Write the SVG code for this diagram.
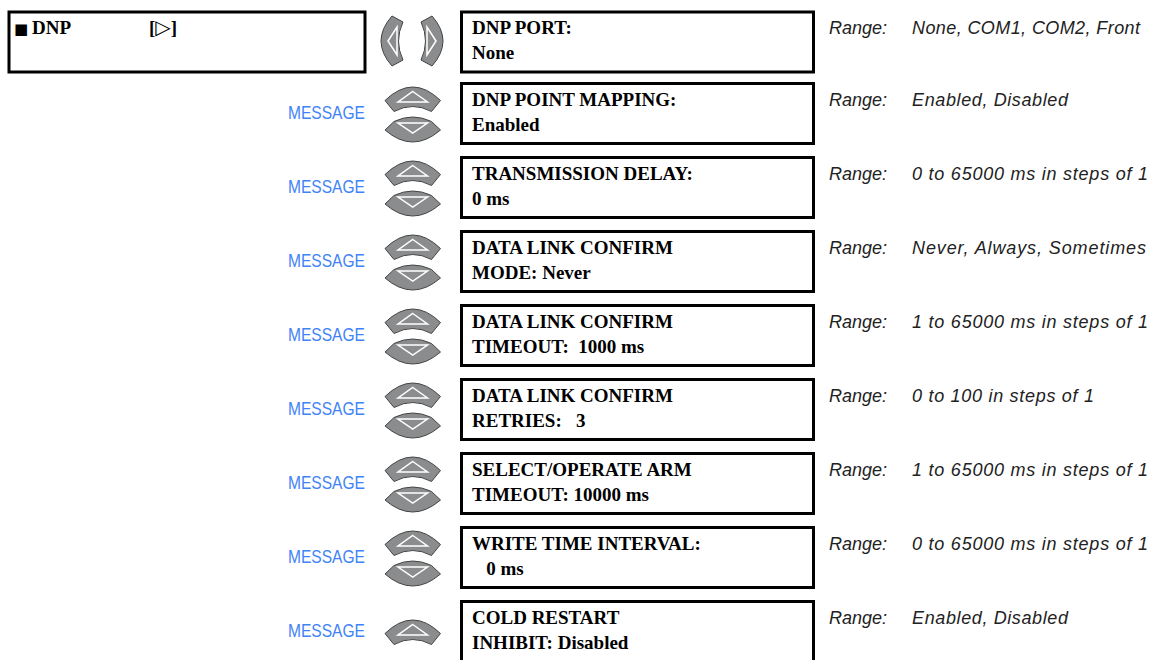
<svg xmlns="http://www.w3.org/2000/svg" xmlns:xlink="http://www.w3.org/1999/xlink" width="1158" height="660" viewBox="0 0 1158 660">
<style>
.box{fill:#fff;stroke:#000;stroke-width:3}
.t{font-family:"Liberation Serif","DejaVu Serif",serif;font-weight:bold;font-size:19px;fill:#000;white-space:pre}
.msg{font-family:"Liberation Sans",Arial,sans-serif;font-size:17.5px;fill:#3f83f8}
.rl{font-family:"Liberation Sans",Arial,sans-serif;font-style:italic;font-size:18px;fill:#222}
.key{fill:#8a8c8e;stroke:#444;stroke-width:1}
.tri{fill:none;stroke:#fff;stroke-width:1.5;stroke-linejoin:miter}
</style>
<defs>
<g id="up">
<path class="key" d="M0,18.5 Q27.75,-8.5 55.5,18.5 L46.5,29.5 Q27.75,19.5 9,29.5 Z"/>
<path class="tri" d="M27.75,9.5 L42.5,20 L13,20 Z"/>
</g>
<g id="down">
<path class="key" d="M9,39.5 Q27.75,30.5 46.5,39.5 L55.5,48 Q27.75,72 0,48 Z"/>
<path class="tri" d="M13,41 L42.5,41 L27.75,51 Z"/>
</g>
</defs>

<g id="menu-dnp">
<rect class="box" x="9" y="12" width="356" height="60"/>
<text class="t" y="34"><tspan x="14" font-family="DejaVu Sans,sans-serif" font-size="15">■</tspan><tspan x="32">DNP</tspan><tspan x="149">[</tspan><tspan font-family="DejaVu Sans,sans-serif" font-weight="normal" font-size="20">▷</tspan><tspan>]</tspan></text>
</g>

<g id="nav-keys">
<g id="key-left">
<path class="key" d="M392,16 Q370,41 392,66 L403,60 Q394,41 403,22 Z"/>
<path class="tri" d="M388,41 L397,27 L397,55 Z"/>
</g>
<g id="key-right">
<path class="key" d="M432,16 Q454,41 432,66 L421,60 Q430,41 421,22 Z"/>
<path class="tri" d="M436,41 L427,27 L427,55 Z"/>
</g>
<use xlink:href="#up" href="#up" x="385" y="82"/><use xlink:href="#down" href="#down" x="385" y="82"/>
<use xlink:href="#up" href="#up" x="385" y="156"/><use xlink:href="#down" href="#down" x="385" y="156"/>
<use xlink:href="#up" href="#up" x="385" y="230"/><use xlink:href="#down" href="#down" x="385" y="230"/>
<use xlink:href="#up" href="#up" x="385" y="304"/><use xlink:href="#down" href="#down" x="385" y="304"/>
<use xlink:href="#up" href="#up" x="385" y="378"/><use xlink:href="#down" href="#down" x="385" y="378"/>
<use xlink:href="#up" href="#up" x="385" y="452"/><use xlink:href="#down" href="#down" x="385" y="452"/>
<use xlink:href="#up" href="#up" x="385" y="526"/><use xlink:href="#down" href="#down" x="385" y="526"/>
<use xlink:href="#up" href="#up" x="385" y="615"/>
</g>

<g id="message-labels">
<text class="msg" x="288" y="119" textLength="77" lengthAdjust="spacingAndGlyphs">MESSAGE</text>
<text class="msg" x="288" y="193" textLength="77" lengthAdjust="spacingAndGlyphs">MESSAGE</text>
<text class="msg" x="288" y="267" textLength="77" lengthAdjust="spacingAndGlyphs">MESSAGE</text>
<text class="msg" x="288" y="341" textLength="77" lengthAdjust="spacingAndGlyphs">MESSAGE</text>
<text class="msg" x="288" y="415" textLength="77" lengthAdjust="spacingAndGlyphs">MESSAGE</text>
<text class="msg" x="288" y="489" textLength="77" lengthAdjust="spacingAndGlyphs">MESSAGE</text>
<text class="msg" x="288" y="563" textLength="77" lengthAdjust="spacingAndGlyphs">MESSAGE</text>
<text class="msg" x="288" y="637" textLength="77" lengthAdjust="spacingAndGlyphs">MESSAGE</text>
</g>

<g id="s1">
<rect class="box" x="461.5" y="12" width="352" height="60"/>
<text class="t" x="472" y="34">DNP PORT:</text>
<text class="t" x="472" y="59">None</text>
<text class="rl" x="829" y="34">Range:</text>
<text class="rl" x="912" y="34" textLength="228">None, COM1, COM2, Front</text>
</g>
<g id="s2">
<rect class="box" x="461.5" y="83.5" width="352" height="60"/>
<text class="t" x="472" y="106">DNP POINT MAPPING:</text>
<text class="t" x="472" y="131">Enabled</text>
<text class="rl" x="829" y="106">Range:</text>
<text class="rl" x="912" y="106" textLength="156">Enabled, Disabled</text>
</g>
<g id="s3">
<rect class="box" x="461.5" y="157.5" width="352" height="60"/>
<text class="t" x="472" y="180">TRANSMISSION DELAY:</text>
<text class="t" x="472" y="205">0 ms</text>
<text class="rl" x="829" y="180">Range:</text>
<text class="rl" x="912" y="180" textLength="236">0 to 65000 ms in steps of 1</text>
</g>
<g id="s4">
<rect class="box" x="461.5" y="231.5" width="352" height="60"/>
<text class="t" x="472" y="254">DATA LINK CONFIRM</text>
<text class="t" x="472" y="279">MODE: Never</text>
<text class="rl" x="829" y="254">Range:</text>
<text class="rl" x="912" y="254" textLength="234">Never, Always, Sometimes</text>
</g>
<g id="s5">
<rect class="box" x="461.5" y="305.5" width="352" height="60"/>
<text class="t" x="472" y="328">DATA LINK CONFIRM</text>
<text class="t" x="472" y="353">TIMEOUT:  1000 ms</text>
<text class="rl" x="829" y="328">Range:</text>
<text class="rl" x="912" y="328" textLength="236">1 to 65000 ms in steps of 1</text>
</g>
<g id="s6">
<rect class="box" x="461.5" y="379.5" width="352" height="60"/>
<text class="t" x="472" y="402">DATA LINK CONFIRM</text>
<text class="t" x="472" y="427">RETRIES:   3</text>
<text class="rl" x="829" y="402">Range:</text>
<text class="rl" x="912" y="402" textLength="182">0 to 100 in steps of 1</text>
</g>
<g id="s7">
<rect class="box" x="461.5" y="453.5" width="352" height="60"/>
<text class="t" x="472" y="476">SELECT/OPERATE ARM</text>
<text class="t" x="472" y="501">TIMEOUT: 10000 ms</text>
<text class="rl" x="829" y="476">Range:</text>
<text class="rl" x="912" y="476" textLength="236">1 to 65000 ms in steps of 1</text>
</g>
<g id="s8">
<rect class="box" x="461.5" y="527.5" width="352" height="60"/>
<text class="t" x="472" y="550">WRITE TIME INTERVAL:</text>
<text class="t" x="472" y="575">   0 ms</text>
<text class="rl" x="829" y="550">Range:</text>
<text class="rl" x="912" y="550" textLength="236">0 to 65000 ms in steps of 1</text>
</g>
<g id="s9">
<rect class="box" x="461.5" y="601.5" width="352" height="62"/>
<text class="t" x="472" y="624">COLD RESTART</text>
<text class="t" x="472" y="649">INHIBIT: Disabled</text>
<text class="rl" x="829" y="624">Range:</text>
<text class="rl" x="912" y="624" textLength="156">Enabled, Disabled</text>
</g>
</svg>
